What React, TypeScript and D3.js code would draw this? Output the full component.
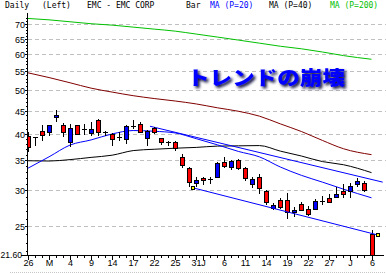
import React, { useEffect, useRef } from 'react';
import * as d3 from 'd3';

// ---- data ----
const dates = [
  '04-26','04-27','04-30','05-01','05-02','05-03','05-04','05-07','05-08','05-09',
  '05-10','05-11','05-14','05-15','05-16','05-17','05-18','05-21','05-22','05-23',
  '05-24','05-25','05-29','05-30','05-31','06-01','06-04','06-05','06-06','06-07',
  '06-08','06-11','06-12','06-13','06-14','06-15','06-18','06-19','06-20','06-21',
  '06-22','06-25','06-26','06-27','06-28','06-29','07-02','07-03','07-05','07-06'
];
const opens = [39.6,39.3,40.6,40.5,43.5,41.8,38.4,41.8,41.1,40.2,42.9,40.4,39.9,39.3,38.9,41.7,42.1,39.1,41.2,39.1,
  38.3,38.4,35.5,33.6,31.2,32.0,31.8,32.2,34.7,33.8,35.0,33.6,31.0,32.2,29.9,27.5,28.6,28.65,26.85,27.95,
  27.35,27.3,28.4,28.8,29.0,29.95,29.95,31.0,31.2,24.0];
const highs = [40.3,39.4,41.8,41.9,45.2,42.2,42.0,41.9,42.0,42.5,43.1,40.7,40.25,40.3,41.9,42.9,42.5,40.9,41.5,39.2,
  38.6,38.5,36.2,33.8,32.2,32.1,32.2,34.7,35.5,35.0,35.3,33.8,32.2,32.6,30.0,28.2,28.8,29.6,27.6,28.3,
  27.7,28.7,29.2,29.4,30.5,31.0,31.1,32.0,31.45,24.5];
const lows = [36.4,37.6,38.6,39.6,42.6,39.3,37.5,39.8,39.8,39.5,39.6,39.6,37.7,38.6,38.0,41.0,40.25,37.7,40.0,37.8,
  37.6,36.7,33.6,30.6,30.6,30.8,31.0,32.1,33.7,33.3,33.3,31.5,30.4,29.5,27.9,27.1,27.3,25.9,26.2,27.0,
  26.3,27.15,27.8,28.1,28.8,28.9,28.8,30.5,29.8,21.6];
const closes = [37.4,39.3,39.7,41.8,44.0,40.3,41.2,40.0,41.1,41.0,40.3,40.4,39.0,39.3,41.6,41.7,40.5,40.7,40.3,38.3,
  38.3,37.2,34.2,31.4,31.6,31.6,31.8,34.5,33.9,34.9,33.6,32.0,31.75,30.4,28.3,27.85,27.6,26.9,27.2,27.2,
  26.6,28.5,28.4,28.3,29.4,29.4,30.7,31.5,30.05,21.65];

const maIdx = [0,3,6,9,12,15,18,21,24,27,30,33,36,39,42,45,49];
const ma20 = [33.6,35.6,37.8,38.8,40.0,40.7,40.55,40.2,39.05,37.85,36.6,35.6,33.8,32.4,31.3,30.2,28.9];
const ma40 = [34.9,34.85,35.1,35.5,35.9,36.75,37.0,37.2,37.35,37.6,37.65,37.7,36.65,35.75,34.75,34.2,32.85];
const ma100 = [54.6,53.3,51.9,50.5,49.5,48.6,47.9,47.3,46.6,45.7,44.9,43.8,42.1,40.5,38.7,37.1,36.0];
const ma200 = [72.0,71.5,70.8,70.1,69.6,68.9,68.2,67.5,66.5,65.5,64.5,63.5,62.5,61.7,60.7,59.6,58.5];

const trendUpperIdx = [17.4, 50.6];
const trendUpperVal = [41.6, 31.3];
const trendLowerIdx = [23.55, 49.97];
const trendLowerVal = [30.4, 23.9];

const yTicks = [25, 30, 35, 40, 45, 50, 55, 60, 65, 70];
const yBottomLabel = '21.60';
const xTickIdx = [0,3,6,9,12,15,18,21,24,25,28,31,34,37,40,43,46,49];
const xTickLabels = ['26','M','4','9','14','17','22','25','31','J','6','11','14','19','22','27','J','6'];

const headerTexts = ['Daily', '(Left)', 'EMC - EMC CORP', 'Bar', 'MA (P=20)', 'MA (P=40)', 'MA (P=200)'];
const headerColors = ['#000', '#000', '#000', '#000', '#0000FF', '#000', '#00C000'];
const headerX = [5, 42, 87, 186, 210, 269, 330];
const title = 'トレンドの崩壊';

export default function App() {
  const ref = useRef<SVGSVGElement>(null);
  useEffect(() => {
    const svg = d3.select(ref.current);
    svg.selectAll('*').remove();
    const W = 386;
    const left = 27, right = 384, top = 13, bottom = 255;
    const x = d3.scaleLinear().domain([0, dates.length - 1]).range([28, 371.5]);
    const y = d3.scaleLog().domain([21.6, 70]).range([255, 24]);

    svg.append('rect').attr('width', W).attr('height', 274).attr('fill', '#fff');

    const defs = svg.append('defs');
    defs.append('clipPath').attr('id', 'plotclip').append('rect')
      .attr('x', left + 0.5).attr('y', top).attr('width', right - left).attr('height', bottom - top);
    const f = defs.append('filter').attr('id', 'sh').attr('x', '-10%').attr('y', '-40%').attr('width', '130%').attr('height', '190%');
    f.append('feGaussianBlur').attr('in', 'SourceAlpha').attr('stdDeviation', 1.4).attr('result', 'b');
    f.append('feOffset').attr('in', 'b').attr('dx', 2).attr('dy', 2).attr('result', 'o');
    f.append('feFlood').attr('flood-color', '#000033').attr('result', 'fl');
    f.append('feComposite').attr('in', 'fl').attr('in2', 'o').attr('operator', 'in').attr('result', 's');
    f.append('feGaussianBlur').attr('in', 'SourceGraphic').attr('stdDeviation', 0.6).attr('result', 't');
    const m = f.append('feMerge');
    m.append('feMergeNode').attr('in', 's');
    m.append('feMergeNode').attr('in', 't');

    // gridlines
    const g = svg.append('g').attr('shape-rendering', 'crispEdges');
    yTicks.forEach(v => {
      g.append('line').attr('x1', left + 1).attr('x2', W).attr('y1', Math.round(y(v)) + 0.5).attr('y2', Math.round(y(v)) + 0.5)
        .attr('stroke', '#c0c0c0').attr('stroke-dasharray', '4,3');
    });

    const plot = svg.append('g').attr('clip-path', 'url(#plotclip)');
    const line = d3.line<[number, number]>().x(d => x(d[0])).y(d => y(d[1])).curve(d3.curveMonotoneX);
    const drawMA = (vals: number[], color: string) => {
      plot.append('path').attr('d', line(maIdx.map((i, k) => [i, vals[k]] as [number, number])) || '')
        .attr('fill', 'none').attr('stroke', color).attr('stroke-width', 1);
    };
    drawMA(ma200, '#00C000');
    drawMA(ma100, '#800000');
    drawMA(ma40, '#000000');
    drawMA(ma20, '#0000FF');
    const straight = d3.line<[number, number]>().x(d => x(d[0])).y(d => y(d[1]));
    plot.append('path').attr('d', straight(trendUpperIdx.map((i, k) => [i, trendUpperVal[k]] as [number, number])) || '')
      .attr('fill', 'none').attr('stroke', '#0000FF');
    svg.append('path').attr('d', straight(trendLowerIdx.map((i, k) => [i, trendLowerVal[k]] as [number, number])) || '')
      .attr('fill', 'none').attr('stroke', '#0000FF');

    // candles
    const cg = plot.append('g').attr('shape-rendering', 'crispEdges');
    dates.forEach((d, i) => {
      const cx = Math.round(x(i)) + 0.5;
      const o = opens[i], c = closes[i], h = highs[i], l = lows[i];
      cg.append('line').attr('x1', cx).attr('x2', cx).attr('y1', y(h)).attr('y2', y(l)).attr('stroke', '#000');
      if (o === c) {
        cg.append('line').attr('x1', cx - 2.5).attr('x2', cx + 2.5).attr('y1', Math.round(y(o)) + 0.5).attr('y2', Math.round(y(o)) + 0.5).attr('stroke', '#000');
      } else {
        const y1 = Math.round(y(Math.max(o, c))), y2 = Math.round(y(Math.min(o, c)));
        cg.append('rect').attr('x', cx - 2).attr('y', y1 + 0.5).attr('width', 4).attr('height', Math.max(1, y2 - y1))
          .attr('fill', c < o ? '#FF0000' : '#0000FF').attr('stroke', '#000');
      }
    });

    // trend markers
    [[trendLowerIdx[0], trendLowerVal[0]], [trendLowerIdx[1], trendLowerVal[1]]].forEach(([i, v]) => {
      svg.append('rect').attr('x', Math.round(x(i)) - 1.5).attr('y', Math.round(y(v)) - 1.5).attr('width', 3).attr('height', 3)
        .attr('fill', '#FFFF00').attr('stroke', '#000').attr('shape-rendering', 'crispEdges');
    });

    // axes
    const ax = svg.append('g').attr('shape-rendering', 'crispEdges');
    ax.append('line').attr('x1', left + 0.5).attr('x2', left + 0.5).attr('y1', top).attr('y2', bottom + 1).attr('stroke', '#000');
    ax.append('line').attr('x1', left).attr('x2', right).attr('y1', bottom + 0.5).attr('y2', bottom + 0.5).attr('stroke', '#000');
    for (let v = 22; v <= 72; v++) {
      if (v % 5 === 0) continue;
      const yy = Math.round(y(v)) + 0.5;
      ax.append('line').attr('x1', left - 1).attr('x2', left).attr('y1', yy).attr('y2', yy).attr('stroke', '#000');
    }
    yTicks.forEach(v => {
      const yy = Math.round(y(v)) + 0.5;
      ax.append('line').attr('x1', left - 2).attr('x2', left).attr('y1', yy).attr('y2', yy).attr('stroke', '#000');
      svg.append('text').attr('x', 25).attr('y', yy + 3.3).attr('text-anchor', 'end')
        .attr('font-family', 'Liberation Sans, Arial, sans-serif').attr('font-size', 9).attr('fill', '#000').text(String(v));
    });
    ax.append('line').attr('x1', 21).attr('x2', left).attr('y1', bottom + 0.5).attr('y2', bottom + 0.5).attr('stroke', '#000');
    svg.append('text').attr('x', 0.5).attr('y', bottom + 3.3).attr('text-anchor', 'start')
      .attr('font-family', 'Liberation Sans, Arial, sans-serif').attr('font-size', 8.6).attr('fill', '#000').text(yBottomLabel);

    dates.forEach((d, i) => {
      const xx = Math.round(x(i)) + 0.5;
      ax.append('line').attr('x1', xx).attr('x2', xx).attr('y1', bottom).attr('y2', bottom + 3).attr('stroke', '#000');
    });
    xTickIdx.forEach((i, k) => {
      const xx = Math.round(x(i)) + 0.5;
      ax.append('line').attr('x1', xx).attr('x2', xx).attr('y1', bottom).attr('y2', bottom + 5).attr('stroke', '#000');
      svg.append('text').attr('x', xx).attr('y', 266).attr('text-anchor', 'middle')
        .attr('font-family', 'Liberation Sans, Arial, sans-serif').attr('font-size', 9).attr('fill', '#000').text(xTickLabels[k]);
    });
    ax.append('line').attr('x1', 10).attr('x2', W).attr('y1', 272.5).attr('y2', 272.5).attr('stroke', '#c8c8c8').attr('stroke-dasharray', '1,1');

    // header
    headerTexts.forEach((t, k) => {
      svg.append('text').attr('x', headerX[k]).attr('y', 8).attr('font-family', 'DejaVu Sans Mono, monospace')
        .attr('font-size', 8).attr('fill', headerColors[k]).attr('xml:space', 'preserve').text(t);
    });

    // title
    svg.append('text').attr('x', 187).attr('y', 85).attr('font-family', 'Noto Sans CJK JP, sans-serif')
      .attr('font-weight', 900).attr('font-size', 19.5).attr('fill', '#0000FF')
      .attr('textLength', 158).attr('lengthAdjust', 'spacingAndGlyphs').attr('filter', 'url(#sh)').text(title);
  }, []);
  return <svg ref={ref} width={386} height={274} style={{ position: 'absolute', left: 0, top: 0 }} />;
}
